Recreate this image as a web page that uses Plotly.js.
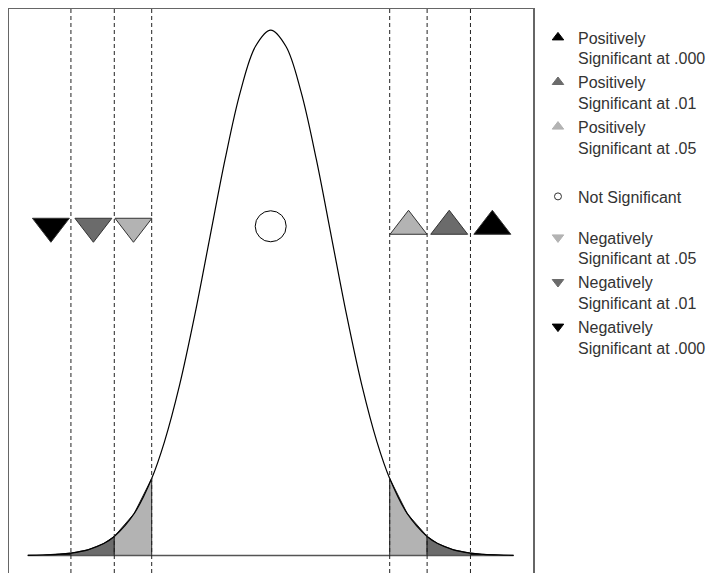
<!DOCTYPE html>
<html>
<head>
<meta charset="utf-8">
<script src="https://cdn.plot.ly/plotly-3.0.1.min.js"></script>
<style>html,body{margin:0;padding:0;background:#fff;}#chart{width:716px;height:573px;}</style>
</head>
<body>
<div id="chart"></div>
<script>
// Standard normal curve (z, density)
var zGrid = [-4, -3.75, -3.5, -3.29, -3, -2.75, -2.576, -2.25, -1.96, -1.75, -1.5, -1.25, -1, -0.75, -0.5, -0.25, 0,
             0.25, 0.5, 0.75, 1, 1.25, 1.5, 1.75, 1.96, 2.25, 2.576, 2.75, 3, 3.29, 3.5, 3.75, 4];
var density = [0.000134, 0.000353, 0.000873, 0.00178, 0.004432, 0.009094, 0.014453, 0.03174, 0.058441, 0.086277,
               0.129518, 0.182649, 0.241971, 0.301137, 0.352065, 0.386668, 0.398942,
               0.386668, 0.352065, 0.301137, 0.241971, 0.182649, 0.129518, 0.086277, 0.058441, 0.03174,
               0.014453, 0.009094, 0.004432, 0.00178, 0.000873, 0.000353, 0.000134];

// critical values (dashed lines)
var critical = [-3.29, -2.576, -1.96, 1.96, 2.576, 3.29];

// shaded tail regions
var tailFrom = [-4, -3.29, -2.576, 1.96, 2.576, 3.29];
var tailTo   = [-3.29, -2.576, -1.96, 2.576, 3.29, 4];
var tailShade = [0, 1, 2, 2, 1, 0];

// markers
var markerNames = ["Positively<br>Significant at .000", "Positively<br>Significant at .01", "Positively<br>Significant at .05",
                   "Not Significant",
                   "Negatively<br>Significant at .05", "Negatively<br>Significant at .01", "Negatively<br>Significant at .000"];
var markerX = [3.65, 2.94, 2.27, 0, -2.26, -2.92, -3.62];
var markerY = [0.25, 0.25, 0.25, 0.25, 0.25, 0.25, 0.25];
var markerSymbol = ["triangle-up", "triangle-up", "triangle-up", "circle", "triangle-down", "triangle-down", "triangle-down"];
var markerShade = [0, 1, 2, -1, 2, 1, 0];
var markerLegend = ["legend", "legend", "legend", "legend2", "legend3", "legend3", "legend3"];

var shades = ["#000000", "#6b6b6b", "#b3b3b3"];

var traces = [];

// tail fills
for (var t = 0; t < tailFrom.length; t++) {
  var xs = [], ys = [];
  for (var i = 0; i < zGrid.length; i++) {
    if (zGrid[i] >= tailFrom[t] - 1e-9 && zGrid[i] <= tailTo[t] + 1e-9) { xs.push(zGrid[i]); ys.push(density[i]); }
  }
  xs.unshift(xs[0]); ys.unshift(0);
  xs.push(xs[xs.length - 1]); ys.push(0);
  traces.push({x: xs, y: ys, mode: "lines", fill: "toself", fillcolor: shades[tailShade[t]],
    line: {color: "#222", width: 1}, showlegend: false, hoverinfo: "skip"});
}

// baseline
traces.push({x: [zGrid[0], zGrid[zGrid.length - 1]], y: [0, 0], mode: "lines",
  line: {color: "#555", width: 1.5}, showlegend: false, hoverinfo: "skip"});

// curve
traces.push({x: zGrid, y: density, mode: "lines", line: {color: "#000", width: 1.2, shape: "spline"},
  showlegend: false, hoverinfo: "skip"});

// plotted markers
for (var m = 0; m < markerNames.length; m++) {
  var isCircle = markerShade[m] < 0;
  traces.push({x: [markerX[m]], y: [markerY[m]], mode: "markers", showlegend: false, hoverinfo: "skip",
    marker: {symbol: markerSymbol[m], size: isCircle ? 31 : 32,
      color: isCircle ? "#ffffff" : shades[markerShade[m]],
      line: {color: isCircle ? "#000" : "#333", width: 1}}});
}

// legend entries
for (var k = 0; k < markerNames.length; k++) {
  var circ = markerShade[k] < 0;
  traces.push({x: [null], y: [null], mode: "markers", name: markerNames[k], legend: markerLegend[k],
    marker: {symbol: circ ? "circle-open" : markerSymbol[k], size: circ ? 7 : 10,
      color: circ ? "#333" : shades[markerShade[k]], line: {color: circ ? "#333" : shades[markerShade[k]], width: 1}}});
}

var shapes = critical.map(function (c) {
  return {type: "line", xref: "x", yref: "paper", x0: c, x1: c, y0: 0, y1: 1,
    line: {color: "#222", width: 1, dash: "4px,3px"}};
});

function legendAt(y) {
  return {x: 1.0095, xanchor: "left", y: y, yanchor: "top", valign: "top", bgcolor: "rgba(0,0,0,0)",
    font: {family: "Liberation Sans, Arial, sans-serif", size: 16, color: "#333"}};
}

var layout = {
  width: 716, height: 573,
  margin: {l: 9, r: 183, t: 9, b: 0},
  paper_bgcolor: "#fff", plot_bgcolor: "#fff",
  showlegend: true,
  xaxis: {range: [-4.31, 4.32], showgrid: false, zeroline: false, showticklabels: false, ticks: "",
    showline: true, mirror: true, linecolor: "#666", linewidth: 1.5},
  yaxis: {range: [-0.0133, 0.415], showgrid: false, zeroline: false, showticklabels: false, ticks: "",
    showline: true, mirror: true, linecolor: "#666", linewidth: 1.5},
  legend: legendAt(0.9796),
  legend2: legendAt(0.6977),
  legend3: legendAt(0.625),
  shapes: shapes,
  font: {family: "Liberation Sans, Arial, sans-serif"}
};

Plotly.newPlot("chart", traces, layout, {displayModeBar: false, staticPlot: true});
</script>
</body>
</html>
